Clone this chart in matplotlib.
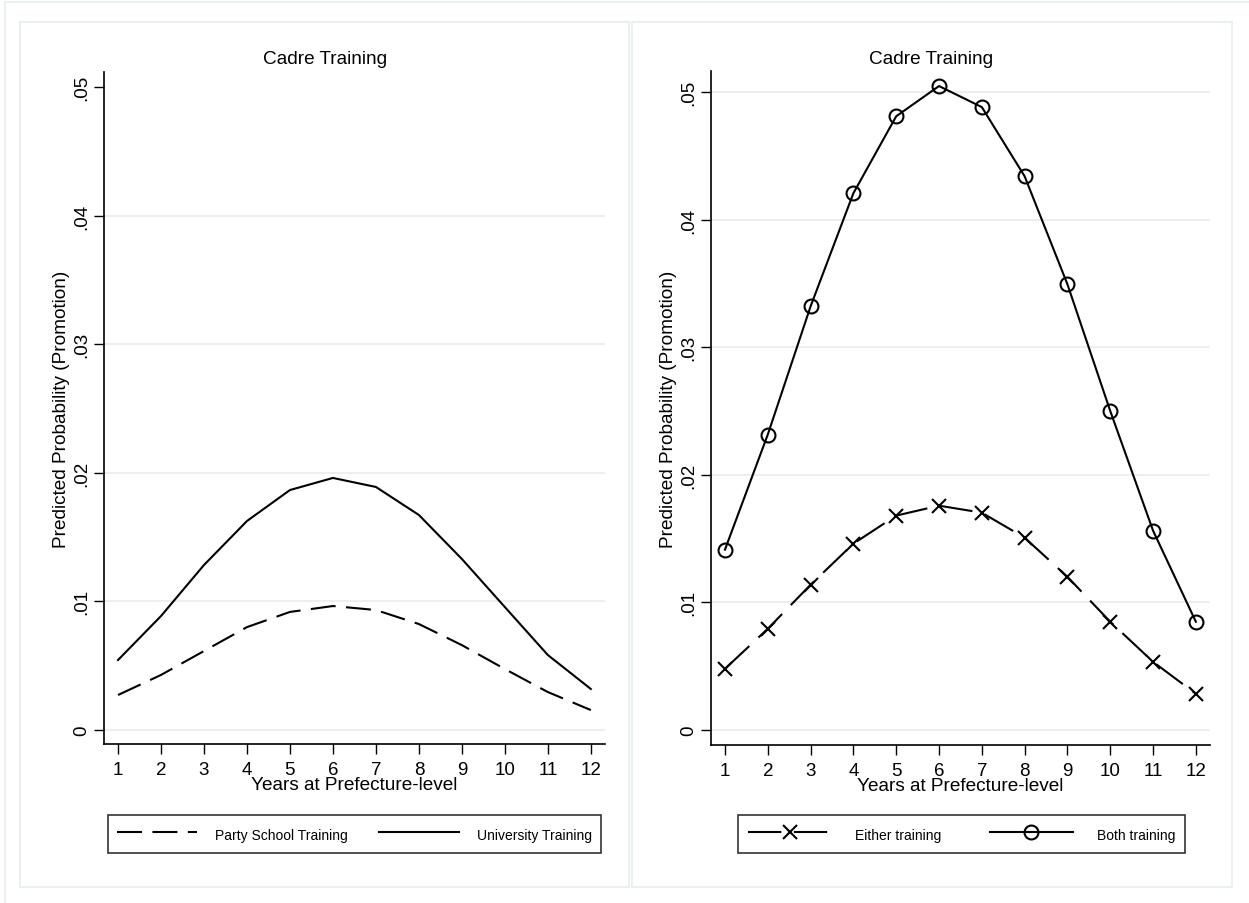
import matplotlib
matplotlib.use("Agg")
import matplotlib.pyplot as plt
from matplotlib.patches import Rectangle
from matplotlib.lines import Line2D

plt.rcParams['font.family'] = ['Liberation Sans', 'DejaVu Sans']

# data
years = [1, 2, 3, 4, 5, 6, 7, 8, 9, 10, 11, 12]
party_school = [0.00272, 0.00428, 0.00614, 0.00800, 0.00918, 0.00964,
                0.00933, 0.00824, 0.00660, 0.00474, 0.00295, 0.00155]
university = [0.00544, 0.00886, 0.01283, 0.01625, 0.01866, 0.01960,
              0.01890, 0.01672, 0.01330, 0.00956, 0.00583, 0.00319]
either = [0.00479, 0.00793, 0.01138, 0.01460, 0.01680, 0.01758,
          0.01703, 0.01507, 0.01200, 0.00848, 0.00534, 0.00283]
both = [0.01413, 0.02315, 0.03320, 0.04207, 0.04810, 0.05047,
        0.04882, 0.04340, 0.03493, 0.02500, 0.01562, 0.00848]
yticks = [0, 0.01, 0.02, 0.03, 0.04, 0.05]
ytick_labels = ["0", ".01", ".02", ".03", ".04", ".05"]

W, H = 1249, 904
fig = plt.figure(figsize=(W / 100, H / 100), dpi=100)
grid_col = "#e9f0f2"

# outer frame and panel frames
fig.add_artist(Line2D([5 / W, 1], [1 - 3 / H, 1 - 3 / H], color=grid_col, lw=1.5))
fig.add_artist(Line2D([5 / W, 5 / W], [0, 1 - 3 / H], color=grid_col, lw=1.5))
for x0, x1 in [(20, 629), (632, 1232)]:
    fig.add_artist(Rectangle((x0 / W, 1 - 888 / H), (x1 - x0) / W, (888 - 23) / H,
                             fill=False, edgecolor=grid_col, lw=1.5,
                             transform=fig.transFigure))

ax1 = fig.add_axes([104 / W, 1 - 745 / H, (605 - 104) / W, (745 - 73) / H])
ax2 = fig.add_axes([711 / W, 1 - 746 / H, (1210 - 711) / W, (746 - 72) / H])


def style(ax, ylim, grid_vals):
    ax.set_xlim(0.674, 12.33)
    ax.set_ylim(*ylim)
    for v in grid_vals:
        ax.axhline(v, color=grid_col, lw=1.5, zorder=0)
    ax.set_xticks(years)
    ax.set_yticks(yticks)
    ax.set_yticklabels(ytick_labels, rotation=90, va="center")
    ax.tick_params(axis="both", direction="out", length=7, width=1, labelsize=13.5)
    ax.tick_params(axis="y", pad=3)
    ax.tick_params(axis="x", pad=5)
    ax.spines["top"].set_visible(False)
    ax.spines["right"].set_visible(False)
    ax.spines["left"].set_linewidth(1.2)
    ax.spines["bottom"].set_linewidth(1.2)
    ax.set_xlabel("Years at Prefecture-level", fontsize=13.7, labelpad=-1)
    ax.set_ylabel("Predicted Probability (Promotion)", fontsize=13.7, labelpad=2)


style(ax1, (-0.00109, 0.05117), yticks[:-1])
style(ax2, (-0.00118, 0.05165), yticks)

l1, = ax1.plot(years, party_school, color="black", lw=1.5, dashes=(12, 5),
               label="Party School Training")
l2, = ax1.plot(years, university, color="black", lw=1.5,
               label="University Training")

l3, = ax2.plot(years, either, color="black", lw=1.5, dashes=(16, 6),
               marker="x", markersize=10, mew=1.5, label="Either training")
l4, = ax2.plot(years, both, color="black", lw=1.5, marker="o", markersize=10,
               mfc="none", mew=1.5, label="Both training")

fig.text(325 / W, 1 - 59 / H, "Cadre Training", ha="center", va="center", fontsize=13.7)
fig.text(931 / W, 1 - 59 / H, "Cadre Training", ha="center", va="center", fontsize=13.7)

leg_kw = dict(loc="center", ncol=2, fontsize=10, frameon=True, fancybox=False,
              edgecolor="black", handlelength=5.7, handletextpad=1.3,
              columnspacing=2.3, borderpad=0.7, handleheight=1.7)
lg1 = fig.legend(handles=[l1, l2], bbox_to_anchor=(354.5 / W, 1 - 835 / H), **leg_kw)
lg1.get_frame().set_linewidth(1.2)
leg_kw.update(handlelength=6.0, handletextpad=1.7, columnspacing=3.5)
lg2 = fig.legend(handles=[l3, l4], bbox_to_anchor=(961.5 / W, 1 - 835 / H), **leg_kw)
lg2.get_frame().set_linewidth(1.2)

fig.savefig("out.png", dpi=100)
